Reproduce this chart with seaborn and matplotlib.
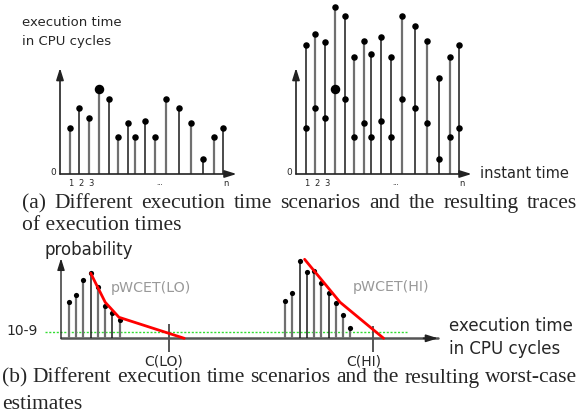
import matplotlib
matplotlib.use('Agg')
import matplotlib.pyplot as plt
import seaborn as sns
import numpy as np

sns.set_theme(style='white')
plt.rcParams['font.family'] = ['DejaVu Sans']

# (a) execution time traces, one value per instant
instants = [1, 2, 3, 4, 5, 6, 7, 7.75, 8.75, 9.75, 10.9, 12.3, 13.5, 14.7, 15.85, 16.85]
exec_lo = [46, 66, 56, 85, 75, 37, 51, 37, 53, 37, 75, 66, 51, 15, 37, 46]
exec_hi = [129, 140, 132, 167, 158, 117, 133, 120, 137, 117, 158, 148, 133, 96, 117, 129]

# (b) probability distributions of execution time
lo_times = [1.1, 2.1, 3.1, 4.1, 5.1, 6.1, 7.1, 8.1]
lo_prob = [36, 43, 58, 65, 51, 32, 25, 18]
hi_times = [30.9, 31.9, 32.9, 33.9, 34.9, 35.9, 36.9, 37.9, 38.9, 39.9]
hi_prob = [37, 45, 77, 66, 67, 55, 45, 35, 23, 10]
pwcet_lo_x = [4.1, 6.1, 8.0, 17.0]
pwcet_lo_y = [65, 36, 21, 0]
pwcet_hi_x = [33.6, 38.5, 44.5]
pwcet_hi_y = [79, 36, 0]
threshold = 6.6
c_lo, c_hi = 14.9, 43.1

W, H = 579, 417
fig = plt.figure(figsize=(W / 100, H / 100), dpi=100)

def fx(px):
    return px / W

def fy(py):
    return 1 - py / H

def panel(x0, y0, xlim, ylim, sx, sy):
    ax = fig.add_axes([fx(x0 + xlim[0] * sx), fy(y0 - ylim[0] * sy),
                       (xlim[1] - xlim[0]) * sx / W, (ylim[1] - ylim[0]) * sy / H])
    ax.set_xlim(xlim)
    ax.set_ylim(ylim)
    ax.axis('off')
    return ax

def arrow(ax, start, end, color='#222222', lw=1.2):
    ax.annotate('', xy=end, xytext=start,
                arrowprops=dict(arrowstyle='-|>,head_length=0.7,head_width=0.22',
                                color=color, lw=lw, mutation_scale=10,
                                shrinkA=0, shrinkB=0))

GRAY, BLACK = '#707070', '#1a1a1a'

def stems(ax, xs, ys, colors, bottom=0):
    for x, y, c in zip(xs, ys, colors):
        ax.vlines(x, bottom, y, colors=c, lw=1.6 if c == GRAY else 1.1, zorder=2)

# ---- top left
ax1 = panel(60, 174, (-1.5, 19.5), (-15, 172), 9.7, 1)
cols1 = [GRAY, BLACK, GRAY, GRAY, BLACK, GRAY, BLACK, GRAY, BLACK, GRAY, GRAY, BLACK, GRAY, BLACK, GRAY, BLACK]
stems(ax1, instants, exec_lo, cols1)
sns.scatterplot(x=instants, y=exec_lo, ax=ax1, color='black', s=22, linewidth=0, zorder=3, clip_on=False)
k = int(np.argmax(exec_lo))
ax1.scatter([instants[k]], [exec_lo[k]], color='black', s=34, zorder=3)
arrow(ax1, (0, 0), (18.2, 0))
arrow(ax1, (0, 0), (0, 106))

# ---- top right
ax2 = panel(296, 174, (-1.5, 19.5), (-15, 172), 9.7, 1)
cols2 = [BLACK, GRAY, BLACK, GRAY, BLACK, GRAY, GRAY, BLACK, BLACK, BLACK, GRAY, BLACK, GRAY, BLACK, GRAY, BLACK]
stems(ax2, instants, exec_hi, cols2)
sns.scatterplot(x=instants, y=exec_hi, ax=ax2, color='black', s=22, linewidth=0, zorder=3, clip_on=False)
sns.scatterplot(x=instants, y=exec_lo, ax=ax2, color='black', s=22, linewidth=0, zorder=3, clip_on=False)
ax2.scatter([instants[k]], [exec_lo[k]], color='black', s=34, zorder=3)
arrow(ax2, (0, 0), (18.1, 0))
arrow(ax2, (0, 0), (0, 106))

for ax in (ax1, ax2):
    for i in range(3):
        ax.text(instants[i] + 0.15, -9, str(i + 1), fontsize=6, ha='center', va='center')
    ax.text(10.3, -9, '...', fontsize=5, ha='center', va='center')
    ax.text(17.1, -9, 'n', fontsize=6, ha='center', va='center')
    ax.text(-0.7, 1.5, '0', fontsize=6.5, ha='center', va='center')

fig.text(fx(22), fy(15.5), 'execution time\nin CPU cycles', fontsize=9.5, va='top', ha='left', linespacing=1.6)
fig.text(fx(480), fy(173.5), 'instant time', fontsize=10.5, va='center', ha='left')

# ---- bottom
ax3 = panel(61, 338.3, (-3, 54), (-20, 85), 7.25, 1)
ax3.hlines(threshold, -2.2, 47.7, colors='#33dd33', linestyles=(0, (1.5, 1.2)), lw=1, zorder=1)
cols_lo = [GRAY, GRAY, GRAY, BLACK, GRAY, GRAY, BLACK, GRAY]
cols_hi = [GRAY, GRAY, BLACK, BLACK, GRAY, GRAY, BLACK, GRAY, GRAY, GRAY]
stems(ax3, lo_times, lo_prob, cols_lo)
stems(ax3, hi_times, hi_prob, cols_hi)
sns.scatterplot(x=lo_times + hi_times, y=lo_prob + hi_prob, ax=ax3, color='black', s=14, linewidth=0, zorder=3)
ax3.plot([0, 52], [0, 0], color='#555555', lw=1.8, zorder=1)
arrow(ax3, (50, 0), (52, 0), color='#222222')
arrow(ax3, (0, 0), (0, 80), color='#222222', lw=1)
sns.lineplot(x=pwcet_lo_x, y=pwcet_lo_y, ax=ax3, sort=False, estimator=None, color='red', lw=2, zorder=4)
sns.lineplot(x=pwcet_hi_x, y=pwcet_hi_y, ax=ax3, sort=False, estimator=None, color='red', lw=2, zorder=4)
ax3.vlines(c_lo, -13.5, 14, colors='#555555', lw=1.4)
ax3.vlines(c_hi, -13.5, 12.3, colors='#555555', lw=1.4)
ax3.text(c_lo - 0.8, -23.5, 'C(LO)', fontsize=10, ha='center', va='center')
ax3.text(c_hi - 1.4, -23.5, 'C(HI)', fontsize=10, ha='center', va='center')

fig.text(fx(44), fy(250), 'probability', fontsize=12, va='center', ha='left')
fig.text(fx(6), fy(331), '10-9', fontsize=10, va='center', ha='left')
fig.text(fx(111), fy(288.3), 'pWCET(LO)', fontsize=10.3, color='#999999', va='center', ha='left')
fig.text(fx(352.7), fy(286.7), 'pWCET(HI)', fontsize=10.3, color='#999999', va='center', ha='left')
fig.text(fx(449), fy(337.5), 'execution time\nin CPU cycles', fontsize=12, va='center', ha='left', linespacing=1.3)

# ---- captions (justified, serif)
renderer = fig.canvas.get_renderer()
CAP = 15.5

def justify(line, x0, x1, ybase, size=CAP):
    words = line.split()
    texts = [fig.text(0, fy(ybase), w, fontsize=size, family='Liberation Serif', va='baseline') for w in words]
    widths = [t.get_window_extent(renderer).width for t in texts]
    gap = (x1 - x0 - sum(widths)) / (len(words) - 1)
    x = x0
    for t, w in zip(texts, widths):
        t.set_x(fx(x))
        x += w + gap

def plain(line, x0, ybase, size=CAP):
    fig.text(fx(x0), fy(ybase), line, fontsize=size, family='Liberation Serif', va='baseline')

justify('(a) Different execution time scenarios and the resulting traces', 22, 577, 208)
plain('of execution times', 22, 229.5)
justify('(b) Different execution time scenarios and the resulting worst-case', 2, 577, 382.5)
plain('estimates', 2, 409)

fig.savefig('out.png', dpi=100, facecolor='white')
